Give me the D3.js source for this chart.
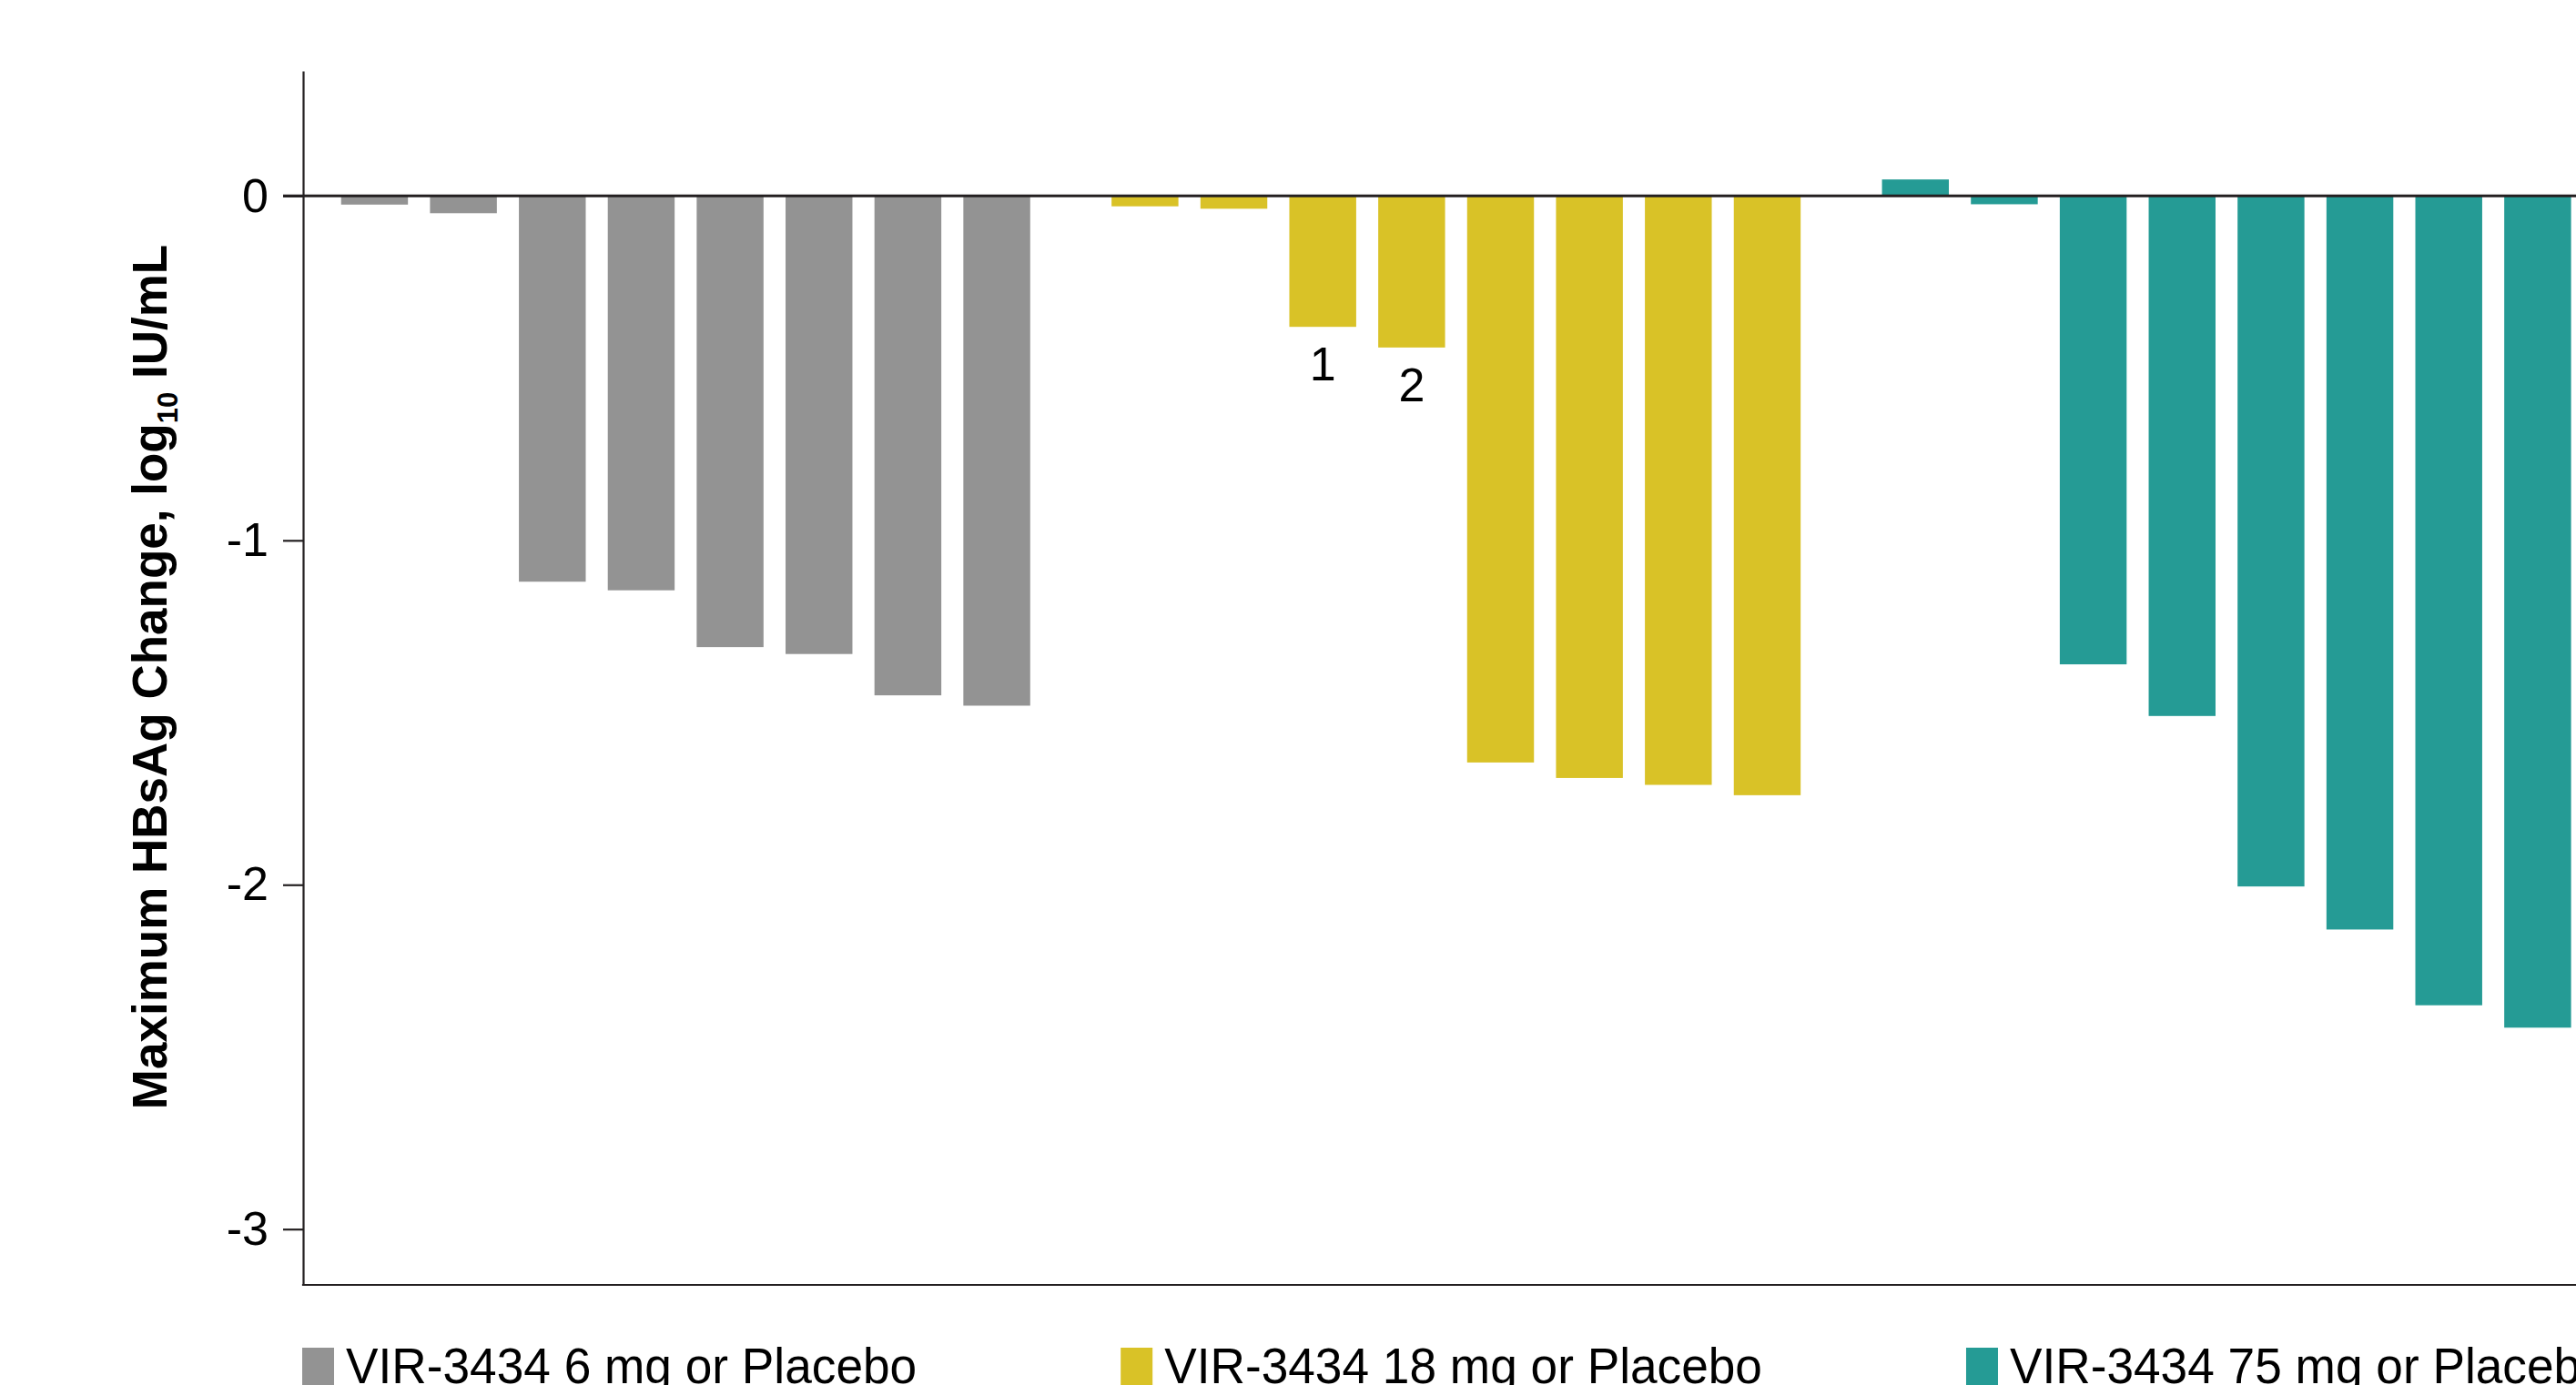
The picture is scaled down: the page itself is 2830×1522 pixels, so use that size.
<!DOCTYPE html>
<html>
<head>
<meta charset="utf-8">
<script src="https://cdn.jsdelivr.net/npm/d3@7"></script>
<style>
  html, body { margin: 0; padding: 0; background: #ffffff; overflow: hidden; }
  svg { display: block; font-family: "Liberation Sans", Arial, Helvetica, sans-serif; }
</style>
</head>
<body>
<svg id="chart" width="2830" height="1522"></svg>
<script>
// Maximum HBsAg change per participant, grouped by VIR-3434 dose cohort
const groups = ["VIR-3434 6 mg or Placebo", "VIR-3434 18 mg or Placebo", "VIR-3434 75 mg or Placebo"];
const groupColors = ["#939393", "#d9c227", "#259b95"];

const values6mg  = [-0.025, -0.05, -1.12, -1.145, -1.31, -1.33, -1.45, -1.48];
const values18mg = [-0.03, -0.037, -0.38, -0.44, -1.645, -1.69, -1.71, -1.74];
const values75mg = [0.048, -0.024, -1.36, -1.51, -2.005, -2.13, -2.35, -2.415];

// Footnote markers placed under individual bars: [group index, bar index, text]
const barNotes = [[1, 2, "1"], [1, 3, "2"]];

const yTicks = [0, -1, -2, -3];
const yTitle = "Maximum HBsAg Change, log";
const yTitleSub = "10";
const yTitleTail = " IU/mL";

const series = [values6mg, values18mg, values75mg];

const svg = d3.select("#chart");
const W = 2830, H = 1522;

const axisX = 333;
const plotTop = 78, plotBottom = 1412;

// Scales
const y = d3.scaleLinear().domain([0.363, -3.162]).range([plotTop, plotBottom]);

const xGroup = d3.scaleBand()
  .domain(groups)
  .range([374.75, 2824.6])
  .paddingInner(0.1056)
  .paddingOuter(0);

const xBar = d3.scaleBand()
  .domain(d3.range(8))
  .range([0, xGroup.bandwidth()])
  .paddingInner(0.248)
  .paddingOuter(0);

// Bars
const gBars = svg.append("g");
series.forEach((vals, gi) => {
  const g = gBars.append("g")
    .attr("transform", `translate(${xGroup(groups[gi])},0)`)
    .attr("fill", groupColors[gi]);
  g.selectAll("rect")
    .data(vals)
    .join("rect")
    .attr("x", (d, i) => xBar(i))
    .attr("width", xBar.bandwidth())
    .attr("y", d => y(Math.max(0, d)))
    .attr("height", d => Math.abs(y(d) - y(0)));
});

// Footnote numbers below bars
svg.append("g")
  .selectAll("text")
  .data(barNotes)
  .join("text")
  .attr("x", d => xGroup(groups[d[0]]) + xBar(d[1]) + xBar.bandwidth() / 2)
  .attr("y", d => y(series[d[0]][d[1]]) + 59)
  .attr("text-anchor", "middle")
  .attr("font-size", 52)
  .attr("fill", "#000")
  .text(d => d[2]);

// Y axis
const yAxis = d3.axisLeft(y)
  .tickValues(yTicks)
  .tickSize(22)
  .tickSizeOuter(0)
  .tickPadding(16)
  .tickFormat(d => String(d));

const gy = svg.append("g")
  .attr("transform", `translate(${axisX},0)`)
  .call(yAxis);
gy.select(".domain").attr("stroke", "#231f20").attr("stroke-width", 2.2);
gy.selectAll(".tick line").attr("stroke", "#231f20").attr("stroke-width", 2.2);
gy.selectAll(".tick text")
  .attr("font-size", 52)
  .attr("font-family", "\"Liberation Sans\", Arial, sans-serif")
  .attr("fill", "#000");

// Bottom axis line
svg.append("line")
  .attr("x1", axisX - 1.1).attr("x2", W)
  .attr("y1", y.range()[1]).attr("y2", y.range()[1])
  .attr("stroke", "#231f20").attr("stroke-width", 2.2);

// Zero reference line across the plot
svg.append("line")
  .attr("x1", axisX - 22).attr("x2", W)
  .attr("y1", y(0)).attr("y2", y(0))
  .attr("stroke", "#231f20").attr("stroke-width", 3);

// Y axis title (rotated, with subscript)
const title = svg.append("text")
  .attr("transform", `translate(183,744) rotate(-90)`)
  .attr("text-anchor", "middle")
  .attr("font-size", 53)
  .attr("font-weight", "bold")
  .attr("fill", "#000");
title.append("tspan").text(yTitle);
title.append("tspan").attr("font-size", 31).attr("dy", 12).text(yTitleSub);
title.append("tspan").attr("dy", -12).text(yTitleTail);

// Legend along the bottom edge (slightly condensed lettering)
const legend = svg.append("g");
const squeeze = 0.968;
let lx = 332;
groups.forEach((name, i) => {
  const item = legend.append("g").attr("transform", `translate(${lx},0)`);
  item.append("rect")
    .attr("x", 0).attr("y", 1481)
    .attr("width", 35).attr("height", 45)
    .attr("fill", groupColors[i]);
  const t = item.append("text")
    .attr("transform", `translate(48,1520) scale(${squeeze},1)`)
    .attr("font-size", 55)
    .attr("fill", "#000")
    .text(name);
  lx += 48 + t.node().getComputedTextLength() * squeeze + 224;
});
</script>
</body>
</html>
